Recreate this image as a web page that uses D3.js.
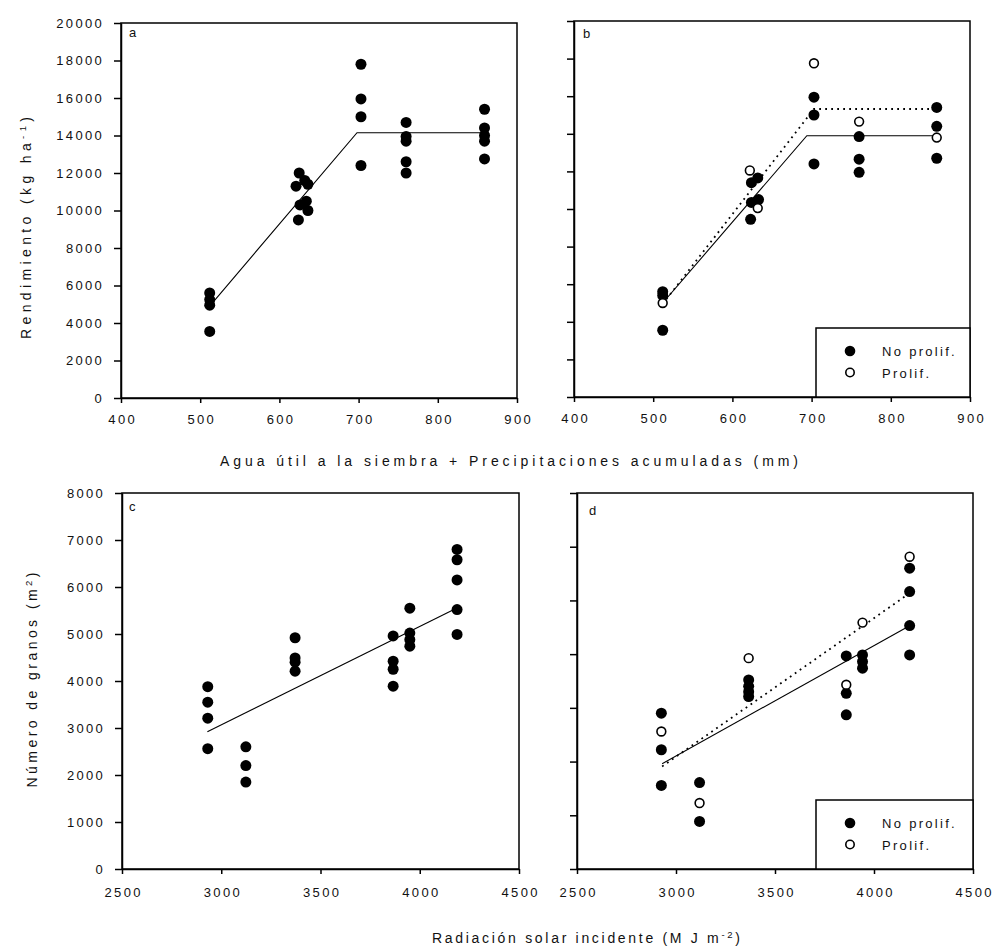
<!DOCTYPE html>
<html><head><meta charset="utf-8">
<script src="https://cdn.jsdelivr.net/npm/d3@7"></script>
<style>
body{margin:0;background:#fff;}
svg text{font-family:"Liberation Sans",Arial,sans-serif;fill:#111;}
</style></head><body>
<svg id="chart" width="995" height="951"></svg>
<script>
// ---------------- DATA ----------------
const waterTicks = [400, 500, 600, 700, 800, 900];
const yieldTicks = [0, 2000, 4000, 6000, 8000, 10000, 12000, 14000, 16000, 18000, 20000];
const radTicks = [2500, 3000, 3500, 4000, 4500];
const grainTicks = [0, 1000, 2000, 3000, 4000, 5000, 6000, 7000, 8000];
const grainTicksD = [0, 1000, 2000, 3000, 4000, 5000, 6000, 7000];

// Panel a: yield vs available water (all points)
const aPoints = [
  [512, 5600], [512, 5250], [512, 4950], [512, 3550],
  [625, 12000], [621, 11300], [632, 11600], [636, 11400], [626, 10300], [634, 10500], [636, 10000], [624, 9500],
  [703, 17800], [703, 15950], [703, 15000], [703, 12400],
  [760, 14700], [760, 13950], [760, 13700], [760, 12600], [760, 12000],
  [859, 15400], [859, 14400], [859, 14000], [859, 13700], [859, 12750]
];
const aFit = [[512, 4900], [698, 14150], [858, 14150]];

// Panel b: split by prolificacy
const bNoProlif = [
  [512, 5600], [512, 5400], [512, 3550],
  [624, 11400], [632, 11650], [624, 10350], [633, 10500], [623, 9450],
  [703, 15950], [703, 15000], [703, 12400],
  [760, 13850], [760, 12650], [760, 11950],
  [858, 15400], [858, 14400], [858, 12700]
];
const bProlif = [[512, 5000], [622, 12050], [632, 10050], [703, 17750], [760, 14650], [858, 13800]];
const bFitNoProlif = [[512, 5000], [694, 13900], [857, 13900]];
const bFitProlif = [[512, 4950], [703, 15320], [857, 15320]];

// Panel c: grain number vs incident solar radiation
const cPoints = [
  [2932, 3880], [2932, 3550], [2932, 3210], [2932, 2560],
  [3124, 2600], [3124, 2200], [3124, 1850],
  [3372, 4920], [3372, 4490], [3372, 4400], [3372, 4210],
  [3866, 4960], [3866, 4420], [3866, 4250], [3866, 3890],
  [3950, 5550], [3950, 5020], [3950, 4880], [3950, 4740],
  [4188, 6800], [4188, 6580], [4188, 6150], [4188, 5520], [4188, 4990]
];
const cFit = [[2930, 2920], [4185, 5550]];

// Panel d: split by prolificacy
const dNoProlif = [
  [2926, 2900], [2926, 2220], [2926, 1555],
  [3119, 1610], [3119, 885],
  [3367, 3520], [3367, 3400], [3367, 3300], [3367, 3210],
  [3860, 3967], [3860, 3270], [3860, 2870],
  [3942, 3986], [3942, 3862], [3942, 3739],
  [4180, 5600], [4180, 5164], [4180, 4531], [4180, 3986]
];
const dProlif = [[2926, 2560], [3119, 1228], [3367, 3925], [3860, 3430], [3942, 4587], [4180, 5814]];
const dFitNoProlif = [[2930, 1960], [4180, 4530]];
const dFitProlif = [[2930, 1910], [4180, 5135]];

const panelLetters = ["a", "b", "c", "d"];
const legendLabels = ["No prolif.", "Prolif."];
const xTitleTop = "Agua útil a la siembra + Precipitaciones acumuladas (mm)";
const xTitleBottom = ["Radiación solar incidente (M J m", "-2", ")"];
const yTitleTop = ["Rendimiento (kg ha", "-1", ")"];
const yTitleBottom = ["Número de granos (m", "2", ")"];

// ---------------- DRAW ----------------
const svg = d3.select("#chart");
const FS = 13, LS = 2.3, TFS = 14;

function fitText(sel, target, anchorMiddle) {
  const node = sel.node();
  const w = node.getComputedTextLength();
  const n = node.getNumberOfChars();
  const sp = (target - w) / (n - 1);
  sel.style("letter-spacing", sp + "px");
  if (anchorMiddle) sel.attr("dx", sp / 2);
}

function drawPanel(p) {
  const x = d3.scaleLinear().domain(p.xDomain).range([p.l, p.r]);
  const y = d3.scaleLinear().domain(p.yDomain).range([p.b, p.t]);
  const g = svg.append("g");

  g.append("rect").attr("x", p.l).attr("y", p.t)
    .attr("width", p.r - p.l).attr("height", p.b - p.t)
    .attr("fill", "none").attr("stroke", "#000").attr("stroke-width", 1.5);

  const ya = d3.axisLeft(y).tickValues(p.yTicks).tickSize(7).tickSizeOuter(0).tickPadding(10)
    .tickFormat(p.yLabels ? d3.format("d") : () => "");
  const yg = g.append("g").attr("transform", `translate(${p.l},0)`).call(ya);

  const xa = d3.axisBottom(x).tickValues(p.xTicks).tickSize(5).tickSizeOuter(0).tickPadding(p.xPad)
    .tickFormat(d3.format("d"));
  const xg = g.append("g").attr("transform", `translate(0,${p.b})`).call(xa);

  [yg, xg].forEach(ax => {
    ax.attr("font-family", null).attr("font-size", null);
    ax.select(".domain").attr("stroke", "#000").attr("stroke-width", 1.5);
    ax.selectAll(".tick line").attr("stroke", "#000").attr("stroke-width", 1.5);
    ax.selectAll(".tick text").style("font-size", FS + "px").style("letter-spacing", LS + "px").attr("fill", "#111");
  });
  xg.selectAll(".tick text").attr("dx", LS / 2);

  const line = d3.line().x(d => x(d[0])).y(d => y(d[1]));
  p.fits.forEach(f => {
    g.append("path").datum(f.data).attr("d", line).attr("fill", "none")
      .attr("stroke", "#000").attr("stroke-width", f.dotted ? 1.8 : 1.1)
      .attr("stroke-dasharray", f.dotted ? "1.8,4.2" : null);
  });

  g.append("g").selectAll("circle").data(p.filled).join("circle")
    .attr("cx", d => x(d[0])).attr("cy", d => y(d[1])).attr("r", 5.5).attr("fill", "#000");
  g.append("g").selectAll("circle").data(p.open).join("circle")
    .attr("cx", d => x(d[0])).attr("cy", d => y(d[1])).attr("r", 4.4)
    .attr("fill", "#fff").attr("stroke", "#000").attr("stroke-width", 1.6);

  g.append("text").attr("x", p.letterX).attr("y", p.letterY).style("font-size", FS + "px").text(p.letter);

  if (p.legendTop) {
    const lg = g.append("g");
    lg.append("rect").attr("x", 816).attr("y", p.legendTop).attr("width", p.r - 816).attr("height", p.b - p.legendTop)
      .attr("fill", "#fff").attr("stroke", "#000").attr("stroke-width", 1.5);
    const rows = [p.legendTop + 23, p.legendTop + 44.5];
    lg.append("circle").attr("cx", 850).attr("cy", rows[0]).attr("r", 5.3).attr("fill", "#000");
    lg.append("circle").attr("cx", 850).attr("cy", rows[1]).attr("r", 4.2).attr("fill", "#fff").attr("stroke", "#000").attr("stroke-width", 1.6);
    legendLabels.forEach((t, i) => {
      lg.append("text").attr("x", 882).attr("y", rows[i] + 5).style("font-size", FS + "px")
        .style("letter-spacing", LS + "px").text(t);
    });
  }
}

drawPanel({l: 121, r: 517, t: 23, b: 398, xDomain: [400, 900], yDomain: [0, 20000],
  xTicks: waterTicks, yTicks: yieldTicks, yLabels: true, xPad: 12,
  filled: aPoints, open: [], fits: [{data: aFit}], letter: panelLetters[0], letterX: 129, letterY: 37});
drawPanel({l: 574, r: 970, t: 21, b: 397, xDomain: [400, 900], yDomain: [0, 20000],
  xTicks: waterTicks, yTicks: yieldTicks, yLabels: false, xPad: 12,
  filled: bNoProlif, open: bProlif,
  fits: [{data: bFitNoProlif}, {data: bFitProlif, dotted: true}],
  letter: panelLetters[1], letterX: 583, letterY: 38, legendTop: 328});
drawPanel({l: 122, r: 519, t: 493, b: 869, xDomain: [2500, 4500], yDomain: [0, 8000],
  xTicks: radTicks, yTicks: grainTicks, yLabels: true, xPad: 14,
  filled: cPoints, open: [], fits: [{data: cFit}], letter: panelLetters[2], letterX: 129, letterY: 511});
drawPanel({l: 577, r: 973, t: 493, b: 869, xDomain: [2500, 4500], yDomain: [0, 7000],
  xTicks: radTicks, yTicks: grainTicksD, yLabels: false, xPad: 14,
  filled: dNoProlif, open: dProlif,
  fits: [{data: dFitNoProlif}, {data: dFitProlif, dotted: true}],
  letter: panelLetters[3], letterX: 589, letterY: 515, legendTop: 800});

// Axis titles
const t1 = svg.append("text").attr("x", 509).attr("y", 466).attr("text-anchor", "middle")
  .style("font-size", TFS + "px").text(xTitleTop);
fitText(t1, 578, true);

function supTitle(parts, transform, target, supSize) {
  const t = svg.append("text").attr("transform", transform).attr("text-anchor", "middle").style("font-size", TFS + "px");
  t.append("tspan").text(parts[0]);
  t.append("tspan").attr("dy", -5).style("font-size", supSize + "px").text(parts[1]);
  t.append("tspan").attr("dy", 5).text(parts[2]);
  fitText(t, target, true);
  return t;
}
supTitle(xTitleBottom, "translate(586,943)", 308, 9.5);
supTitle(yTitleTop, "translate(31,228) rotate(-90)", 222, 9.5);
supTitle(yTitleBottom, "translate(37,680) rotate(-90)", 215, 9.5);
</script>
</body></html>
